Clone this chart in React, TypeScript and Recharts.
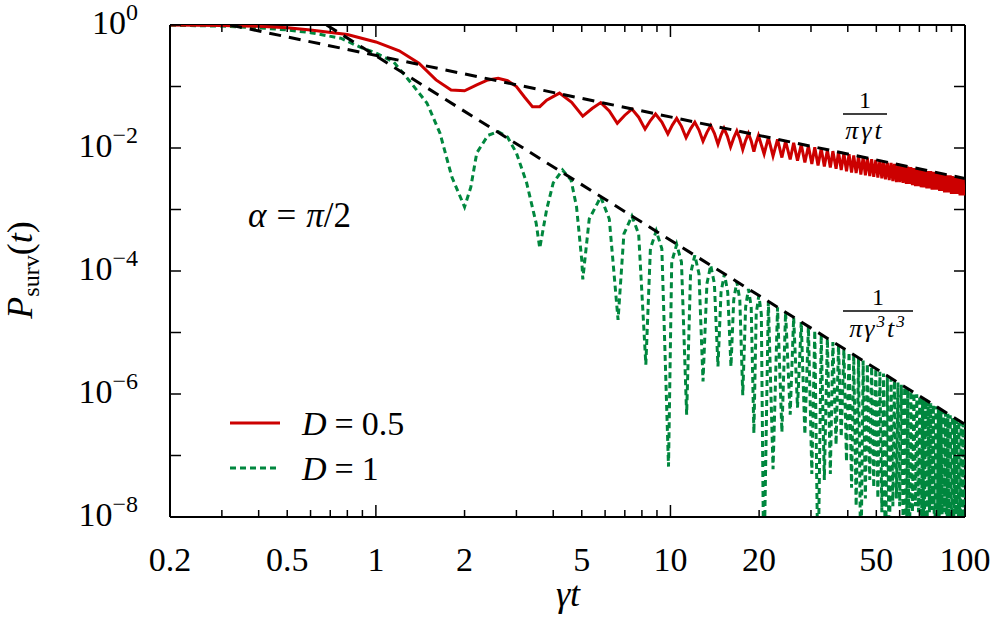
import React from 'react';
import { LineChart, Line, XAxis, YAxis, ReferenceLine, Customized } from 'recharts';

// survival probability, D = 0.5 (early part, then extrema with mid-slope points)
const redCurve: [number, number][] = [
  [0.2, 1.0], [0.3, 0.98], [0.4, 0.95], [0.5, 0.9], [0.6, 0.83], [0.8, 0.7], [1.0, 0.53], [1.2, 0.38],
  [1.4, 0.24], [1.6, 0.128], [1.8, 0.088], [2.0, 0.085], [2.2, 0.106], [2.4, 0.128], [2.6, 0.136],
  [2.8, 0.124], [3.0, 0.1], [3.2, 0.067], [3.4, 0.047], [3.6, 0.047], [3.8, 0.06], [4.2, 0.078],
  [4.62, 0.0555], [5.04, 0.033], [5.42, 0.0439], [5.8, 0.0548], [6.2, 0.04], [6.6, 0.0252],
  [7.0, 0.0341], [7.4, 0.043], [7.8, 0.0317], [8.2, 0.0203], [8.55, 0.028], [8.9, 0.0357],
  [9.35, 0.0263], [9.8, 0.0169], [10.15, 0.0236], [10.5, 0.0303], [10.9, 0.0225], [11.3, 0.0147],
  [11.7, 0.0205], [12.1, 0.0263], [12.5, 0.0196], [12.9, 0.0129], [13.3, 0.018], [13.7, 0.0232],
  [14.1, 0.0173], [14.5, 0.0115], [14.85, 0.0162], [15.2, 0.0209], [15.6, 0.0156], [16.0, 0.0104],
  [16.4, 0.0146], [16.8, 0.0189], [17.2, 0.0141], [17.6, 0.0094], [18.0, 0.0133], [18.4, 0.0173],
  [18.8, 0.013], [19.2, 0.0087], [19.55, 0.0123], [19.9, 0.016],
  [20.8, 0.008], [21.5, 0.0148], [22.3, 0.0074], [23.1, 0.0138], [23.9, 0.007],
  [24.6, 0.0129], [25.5, 0.0065], [26.2, 0.0121], [27.0, 0.0062], [27.8, 0.0114], [28.6, 0.0058],
  [29.4, 0.0108], [30.2, 0.0055], [30.9, 0.0103], [31.7, 0.0052], [32.5, 0.0098], [33.3, 0.005],
  [34.1, 0.0093], [34.9, 0.0048], [35.6, 0.0089], [36.5, 0.0046], [37.2, 0.0086], [38.0, 0.0044],
  [38.8, 0.0082], [39.6, 0.0042], [40.4, 0.0079], [41.2, 0.004], [41.9, 0.0076], [42.7, 0.0039],
  [43.5, 0.0073], [44.3, 0.0037], [45.1, 0.0071], [45.9, 0.0036], [46.6, 0.0068], [47.5, 0.0035],
  [48.2, 0.0066], [49.0, 0.0034], [49.8, 0.0064], [50.6, 0.0033], [51.4, 0.0062], [52.2, 0.0032],
  [52.9, 0.006], [53.7, 0.0031], [54.5, 0.0058], [55.3, 0.003], [56.1, 0.0057], [56.9, 0.0029],
  [57.6, 0.0055], [58.5, 0.0028], [59.2, 0.0054], [60.0, 0.0028], [60.8, 0.0052], [61.6, 0.0027],
  [62.4, 0.0051], [63.2, 0.0026], [63.9, 0.005], [64.7, 0.0026], [65.5, 0.0049], [66.3, 0.0025],
  [67.1, 0.0047], [67.9, 0.0024], [68.6, 0.0046], [69.5, 0.0024], [70.2, 0.0045], [71.0, 0.0023],
  [71.8, 0.0044], [72.6, 0.0023], [73.4, 0.0043], [74.2, 0.0022], [74.9, 0.0042], [75.7, 0.0022],
  [76.5, 0.0042], [77.3, 0.0021], [78.1, 0.0041], [78.9, 0.0021], [79.6, 0.004], [80.4, 0.0021],
  [81.2, 0.0039], [82.0, 0.002], [82.8, 0.0038], [83.6, 0.002], [84.4, 0.0038], [85.2, 0.0019],
  [85.9, 0.0037], [86.7, 0.0019], [87.5, 0.0036], [88.3, 0.0019], [89.1, 0.0036], [89.9, 0.0018],
  [90.6, 0.0035], [91.4, 0.0018], [92.2, 0.0034], [93.0, 0.0018], [93.8, 0.0034], [94.6, 0.0018],
  [95.3, 0.0033], [96.2, 0.0017], [96.9, 0.0033], [97.7, 0.0017], [98.5, 0.0032], [99.3, 0.0017],
  [100, 0.0025],
];

// survival probability, D = 1 (dips below 1e-8 are clipped at the axis)
const greenCurve: [number, number][] = [
  [0.2, 0.99], [0.3, 0.96], [0.4, 0.9], [0.5, 0.83], [0.6, 0.75], [0.76, 0.61], [0.88, 0.44], [1.0, 0.35],
  [1.15, 0.25], [1.28, 0.135], [1.49, 0.054], [1.65, 0.0175], [1.81, 0.0034], [2.0, 0.0011], [2.1, 0.0023],
  [2.2, 0.0083], [2.4, 0.016], [2.6, 0.0185], [2.8, 0.015], [3.0, 0.0083], [3.25, 0.0027], [3.5, 0.0006],
  [3.6, 0.000235], [3.8, 0.001], [4.0, 0.0027], [4.3, 0.0044], [4.6, 0.003], [4.8, 0.0011], [5.0, 0.00015],
  [5.04, 7.3e-5], [5.3, 7e-4], [5.8, 0.0016], [6.2, 7e-4], [6.64, 1.6e-5],
  [6.95, 4e-4], [7.4, 7.8e-4], [7.8, 4e-4], [8.25, 3e-6],
  [8.55, 2.3e-4], [8.95, 4.5e-4], [9.35, 2.3e-4], [9.85, 6.6e-8],
  [10.1, 1.4e-4], [10.5, 2.7e-4], [10.9, 1.4e-4], [11.35, 4.6e-7],
  [11.7, 9e-5], [12.1, 1.8e-4], [12.5, 9e-5], [12.9, 1.6e-6],
  [13.3, 6.2e-5], [13.7, 1.24e-4], [14.1, 6.2e-5], [14.5, 2.8e-6],
  [14.85, 4.5e-5], [15.25, 9e-5], [15.65, 4.5e-5], [16.05, 2.8e-6],
  [16.4, 3.4e-5], [16.8, 6.7e-5], [17.2, 3.4e-5], [17.6, 9.6e-7],
  [18.0, 2.6e-5], [18.4, 5.1e-5], [18.8, 2.6e-5], [19.2, 2.3e-7],
  [19.55, 2e-5], [19.95, 4e-5], [20.35, 2e-5], [20.75, 1e-9],
  [21.5, 3.2e-5], [22.3, 6e-8], [23.1, 2.58e-5], [23.9, 2.4e-7], [24.6, 2.14e-5], [25.5, 4.6e-7],
  [26.2, 1.77e-5], [27.0, 6e-7], [27.8, 1.48e-5], [28.6, 2.2e-7], [29.4, 1.25e-5], [30.2, 5e-8],
  [30.9, 1.08e-5], [31.7, 1e-9], [32.5, 9.3e-6], [33.3, 4e-8], [34.1, 8e-6], [34.9, 5e-8],
  [35.6, 7e-6], [36.5, 1.5e-7], [37.2, 6.2e-6], [38.0, 2e-7], [38.8, 5.4e-6], [39.6, 8e-8],
  [40.4, 4.8e-6], [41.2, 3e-8], [41.9, 4.3e-6], [42.7, 1.5e-8], [43.5, 3.9e-6], [44.3, 1e-9],
  [45.1, 3.5e-6], [45.9, 2e-8], [46.6, 3.1e-6], [47.5, 4e-8], [48.2, 2.8e-6], [49.0, 3e-8],
  [49.8, 2.6e-6], [50.6, 2e-8], [51.4, 2.3e-6], [52.2, 1.2e-8], [52.9, 2.15e-6], [53.7, 1e-9],
  [54.5, 1.96e-6], [55.3, 1e-9], [56.1, 1.8e-6], [56.9, 1.5e-8], [57.6, 1.66e-6], [58.5, 2e-8],
  [59.2, 1.53e-6], [60.0, 1.5e-8], [60.8, 1.41e-6], [61.6, 1e-8], [62.4, 1.31e-6], [63.2, 1e-9],
  [63.9, 1.22e-6], [64.7, 1e-9], [65.5, 1.13e-6], [66.3, 1.2e-8], [67.1, 1.05e-6], [67.9, 1.5e-8],
  [68.6, 9.9e-7], [69.5, 1.2e-8], [70.2, 9.2e-7], [71.0, 1e-9], [71.8, 8.6e-7], [72.6, 1e-9],
  [73.4, 8e-7], [74.2, 1e-9], [74.9, 7.6e-7], [75.7, 1.2e-8], [76.5, 7.1e-7], [77.3, 1.3e-8],
  [78.1, 6.7e-7], [78.9, 1e-9], [79.6, 6.3e-7], [80.4, 1e-9], [81.2, 5.9e-7], [82.0, 1e-9],
  [82.8, 5.6e-7], [83.6, 1.1e-8], [84.4, 5.3e-7], [85.2, 1.2e-8], [85.9, 5e-7], [86.7, 1e-9],
  [87.5, 4.75e-7], [88.3, 1e-9], [89.1, 4.5e-7], [89.9, 1e-9], [90.6, 4.3e-7], [91.4, 1e-9],
  [92.2, 4.06e-7], [93.0, 1.1e-8], [93.8, 3.85e-7], [94.6, 1e-9], [95.3, 3.67e-7], [96.2, 1e-9],
  [96.9, 3.5e-7], [97.7, 1e-9], [98.5, 3.33e-7], [99.3, 1e-9], [100, 3e-8],
];

// asymptotes 1/(pi gamma t) and 1/(pi gamma^3 t^3), straight on log-log axes
const upperAsym: [number, number][] = [[0.32, 1], [100, 0.0032]];
const lowerAsym: [number, number][] = [[0.68, 1], [100, 3.2e-7]];

const xTicks = [0.2, 0.3, 0.4, 0.5, 0.6, 0.7, 0.8, 0.9, 1, 2, 3, 4, 5, 6, 7, 8, 9, 10, 20, 30, 40, 50, 60, 70, 80, 90, 100];
const xLabels = [0.2, 0.5, 1, 2, 5, 10, 20, 50, 100];
const xMajor = [1, 10, 100];
const yTicks = [1, 1e-1, 1e-2, 1e-3, 1e-4, 1e-5, 1e-6, 1e-7, 1e-8];

const RED = '#cc0000';
const GREEN = '#00873e';
const FONT = '"Liberation Serif", "DejaVu Serif", serif';
const PLOT_W = 795;
const PLOT_H = 492;

const toPts = (arr: [number, number][]) => arr.map(([t, p]) => ({ t, p }));

const XTick = (props: any) => {
  const { x, y, payload } = props;
  const v = payload.value;
  const len = xMajor.includes(v) ? 12 : 7;
  return (
    <g>
      <line x1={x} x2={x} y1={y} y2={y - len} stroke="#000" strokeWidth={1.5} />
      <line x1={x} x2={x} y1={y - PLOT_H} y2={y - PLOT_H + len} stroke="#000" strokeWidth={1.5} />
      {xLabels.includes(v) && (
        <text x={x} y={y + 54} textAnchor="middle" fontSize={34} fontFamily={FONT} fill="#000">
          {v}
        </text>
      )}
    </g>
  );
};

const YTick = (props: any) => {
  const { x, y, payload } = props;
  const e = Math.round(Math.log10(payload.value));
  return (
    <g>
      <line x1={x} x2={x + 11} y1={y} y2={y} stroke="#000" strokeWidth={1.5} />
      <line x1={x + PLOT_W} x2={x + PLOT_W - 11} y1={y} y2={y} stroke="#000" strokeWidth={1.5} />
      {e % 2 === 0 && (
        <text x={x - 32} y={y + 9} textAnchor="end" fontSize={34} fontFamily={FONT} fill="#000">
          10
          <tspan fontSize={24} dy={-14}>{e === 0 ? '0' : `\u2212${-e}`}</tspan>
        </text>
      )}
    </g>
  );
};

const Annotations = () => (
  <g fontFamily={FONT} fill="#000">
    <text transform="translate(32,270) rotate(-90)" textAnchor="middle" fontSize={36}>
      <tspan fontStyle="italic">P</tspan>
      <tspan fontSize={24} dy={7}>surv</tspan>
      <tspan dy={-7}>(</tspan>
      <tspan fontStyle="italic">t</tspan>)
    </text>
    <text x={568} y={606} textAnchor="middle" fontSize={36} fontStyle="italic">γt</text>

    <text x={248} y={227} fontSize={35}>
      <tspan fontStyle="italic">α</tspan>
      <tspan dx={10}>=</tspan>
      <tspan dx={10} fontStyle="italic">π</tspan>/2
    </text>

    <text x={865} y={108} textAnchor="middle" fontSize={24}>1</text>
    <line x1={843} x2={887} y1={114} y2={114} stroke="#000" strokeWidth={1.5} />
    <text x={865} y={139} textAnchor="middle" fontSize={26} fontStyle="italic" letterSpacing={3}>πγt</text>

    <text x={878} y={305} textAnchor="middle" fontSize={24}>1</text>
    <line x1={843} x2={913} y1={311} y2={311} stroke="#000" strokeWidth={1.5} />
    <text x={878} y={337} textAnchor="middle" fontSize={26} fontStyle="italic" letterSpacing={2}>
      πγ<tspan fontSize={17} dy={-10}>3</tspan>
      <tspan dy={10}>t</tspan>
      <tspan fontSize={17} dy={-10}>3</tspan>
    </text>

    <line x1={230} x2={280} y1={423} y2={423} stroke={RED} strokeWidth={3} />
    <text x={302} y={435} fontSize={34}>
      <tspan fontStyle="italic">D</tspan>
      <tspan dx={8}>=</tspan>
      <tspan dx={8}>0.5</tspan>
    </text>
    <line x1={230} x2={278} y1={468} y2={468} stroke={GREEN} strokeWidth={3} strokeDasharray="6 4" />
    <text x={302} y={480} fontSize={34}>
      <tspan fontStyle="italic">D</tspan>
      <tspan dx={8}>=</tspan>
      <tspan dx={8}>1</tspan>
    </text>
  </g>
);

export default function App() {
  return (
    <div style={{ position: 'absolute', left: 0, top: 0 }}>
      <LineChart width={996} height={631} margin={{ top: 25, right: 31, left: 0, bottom: 8 }}>
        <XAxis
          type="number"
          dataKey="t"
          scale="log"
          domain={[0.2, 100]}
          ticks={xTicks}
          interval={0}
          allowDataOverflow
          height={106}
          tickSize={0}
          tickMargin={0}
          tickLine={false}
          tick={<XTick />}
          axisLine={{ stroke: '#000', strokeWidth: 2 }}
        />
        <YAxis
          type="number"
          scale="log"
          domain={[1e-8, 1]}
          ticks={yTicks}
          interval={0}
          allowDataOverflow
          width={170}
          tickSize={0}
          tickMargin={0}
          tickLine={false}
          tick={<YTick />}
          axisLine={{ stroke: '#000', strokeWidth: 2 }}
        />
        <ReferenceLine y={1} stroke="#000" strokeWidth={2} />
        <ReferenceLine x={100} stroke="#000" strokeWidth={2} />
        <Line data={toPts(greenCurve)} dataKey="p" type="linear" stroke={GREEN} strokeWidth={3} strokeDasharray="6 4" dot={false} isAnimationActive={false} />
        <Line data={toPts(redCurve)} dataKey="p" type="linear" stroke={RED} strokeWidth={3} dot={false} isAnimationActive={false} />
        <Line data={toPts(upperAsym)} dataKey="p" type="linear" stroke="#000" strokeWidth={3} strokeDasharray="12 8" dot={false} isAnimationActive={false} />
        <Line data={toPts(lowerAsym)} dataKey="p" type="linear" stroke="#000" strokeWidth={3} strokeDasharray="12 8" dot={false} isAnimationActive={false} />
        <Customized component={<Annotations />} />
      </LineChart>
    </div>
  );
}
